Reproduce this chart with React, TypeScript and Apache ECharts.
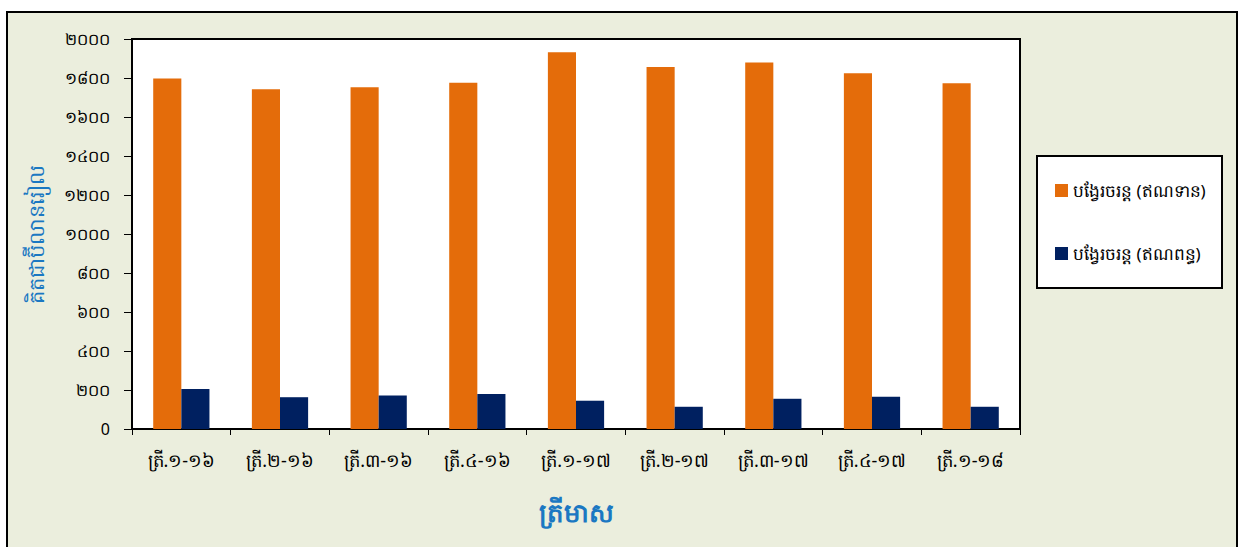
import React, { useEffect, useRef } from "react";
import * as echarts from "echarts";

const categories = ["ត្រី.១-១៦", "ត្រី.២-១៦", "ត្រី.៣-១៦", "ត្រី.៤-១៦", "ត្រី.១-១៧", "ត្រី.២-១៧", "ត្រី.៣-១៧", "ត្រី.៤-១៧", "ត្រី.១-១៨"];
const creditName = "បង្វែរចរន្ត (ឥណទាន)";
const debitName = "បង្វែរចរន្ត (ឥណពន្ធ)";
const creditValues = [1797, 1742, 1752, 1776, 1932, 1857, 1880, 1824, 1773];
const debitValues = [205, 163, 172, 180, 145, 114, 155, 166, 114];
const yTickLabels: Record<number, string> = {
  0: "0", 200: "២០០", 400: "៤០០", 600: "៦០០", 800: "៨០០", 1000: "១០០០",
  1200: "១២០០", 1400: "១៤០០", 1600: "១៦០០", 1800: "១៨០០", 2000: "២០០០",
};
const yTitle = "គិតជាប៊ីលានរៀល";
const xTitle = "ត្រីមាស";

const FONT = "'Noto Sans', 'DejaVu Sans', sans-serif";

export default function App() {
  const ref = useRef<HTMLDivElement>(null);
  useEffect(() => {
    if (!ref.current) return;
    const chart = echarts.init(ref.current, undefined, { renderer: "svg" });
    chart.setOption({
      animation: false,
      backgroundColor: "#ffffff",
      textStyle: { fontFamily: FONT },
      graphic: [
        {
          type: "rect",
          z: -10,
          shape: { x: 7, y: 12, width: 1230, height: 545 },
          style: { fill: "#EBEEDD", stroke: "#000", lineWidth: 2 },
        },
        {
          type: "rect",
          z: 1,
          shape: { x: 1037, y: 156, width: 185, height: 132 },
          style: { fill: "#ffffff", stroke: "#000", lineWidth: 2 },
        },
      ],
      legend: {
        orient: "vertical",
        left: 1050,
        top: 177,
        itemGap: 46,
        itemWidth: 13,
        itemHeight: 13,
        itemStyle: { borderWidth: 0 },
        icon: "rect",
        z: 5,
        textStyle: { fontFamily: FONT, fontSize: 17, color: "#000" },
        data: [creditName, debitName],
      },
      grid: {
        left: 132,
        top: 39,
        right: 219,
        bottom: 118,
        show: true,
        backgroundColor: "#ffffff",
        borderColor: "#000",
        borderWidth: 2,
      },
      xAxis: {
        type: "category",
        data: categories,
        axisLine: { lineStyle: { color: "#000", width: 2 } },
        axisTick: { show: true, length: 6, lineStyle: { color: "#000" } },
        axisLabel: { fontFamily: FONT, fontSize: 18, color: "#000", margin: 22 },
        name: xTitle,
        nameLocation: "middle",
        nameGap: 70,
        nameTextStyle: { fontFamily: FONT, fontSize: 26, fontWeight: "bold", color: "#1B78C2" },
      },
      yAxis: {
        type: "value",
        min: 0,
        max: 2000,
        interval: 200,
        splitLine: { show: false },
        axisLine: { show: true, lineStyle: { color: "#000", width: 2 } },
        axisTick: { show: true, length: 8, lineStyle: { color: "#000" } },
        axisLabel: {
          fontFamily: FONT,
          fontSize: 16,
          color: "#000",
          margin: 22,
          formatter: (v: number) => yTickLabels[v] ?? String(v),
        },
        name: yTitle,
        nameLocation: "middle",
        nameGap: 86,
        nameTextStyle: { fontFamily: FONT, fontSize: 21, color: "#1B78C2" },
      },
      series: [
        {
          name: creditName,
          type: "bar",
          data: creditValues,
          barGap: "0%",
          barCategoryGap: "43%",
          itemStyle: { color: "#E46C0A" },
        },
        {
          name: debitName,
          type: "bar",
          data: debitValues,
          itemStyle: { color: "#002060" },
        },
      ],
    });
    return () => chart.dispose();
  }, []);
  return <div ref={ref} style={{ position: "absolute", left: 0, top: 0, width: 1239, height: 547 }} />;
}
